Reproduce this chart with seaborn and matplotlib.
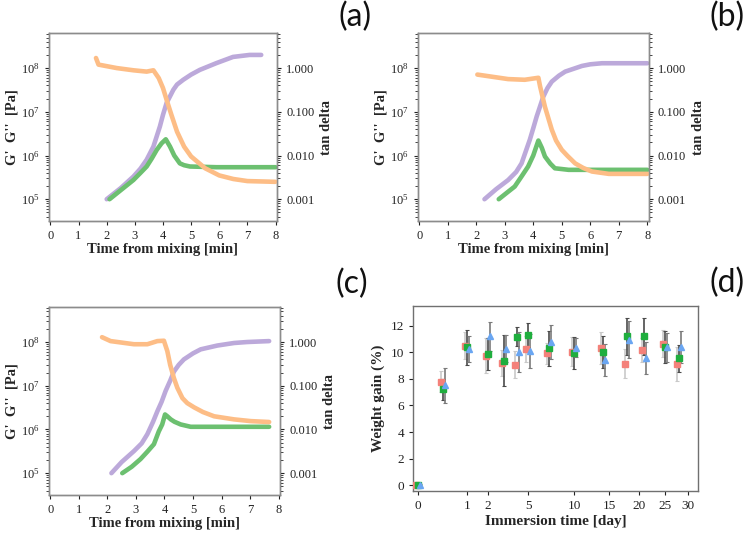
import matplotlib.pyplot as plt
import matplotlib.transforms as mtransforms
from matplotlib.ticker import FuncFormatter, LogLocator, NullFormatter
import numpy as np
import pandas as pd
import seaborn as sns

# ---- rheology data, panel (a) ----
a_gp_t = [2.0, 2.5, 2.95, 3.2, 3.42, 3.66, 3.89, 4.0, 4.13, 4.37, 4.5, 4.72, 5.0, 5.31, 5.9, 6.49, 7.08, 7.49]
a_gp = [1e5, 1.8e5, 3.3e5, 5e5, 8e5, 1.6e6, 4.6e6, 8.5e6, 1.6e7, 3.2e7, 4.2e7, 5.4e7, 7.1e7, 9.1e7,
        1.3e8, 1.8e8, 2.0e8, 2.0e8]
a_gpp_t = [2.1, 2.95, 3.2, 3.42, 3.6, 3.78, 3.95, 4.1, 4.25, 4.4, 4.6, 4.75, 4.96, 5.9, 8.0]
a_gpp = [1e5, 2.75e5, 4e5, 5.6e5, 8.5e5, 1.35e6, 1.9e6, 2.35e6, 1.6e6, 1.0e6, 6.6e5, 6.0e5, 5.6e5, 5.4e5, 5.4e5]
a_tan_t = [1.62, 1.71, 2.36, 2.95, 3.42, 3.66, 3.85, 4.0, 4.15, 4.3, 4.5, 4.75, 5.0, 5.5, 6.0, 6.5, 7.0, 7.99]
a_tan = [1.7, 1.2, 1.0, 0.89, 0.83, 0.89, 0.59, 0.35, 0.17, 0.085, 0.035, 0.016, 0.0095, 0.0051,
         0.0035, 0.0029, 0.0026, 0.0025]

# ---- panel (b) ----
b_gp_t = [2.29, 2.7, 3.12, 3.4, 3.59, 3.88, 4.0, 4.12, 4.35, 4.5, 4.65, 4.9, 5.12, 5.71, 6.0, 6.41, 8.0]
b_gp = [1e5, 1.7e5, 2.75e5, 4.2e5, 6.6e5, 2.3e6, 4.2e6, 7.8e6, 2.2e7, 3.5e7, 4.9e7, 6.7e7, 8.3e7,
        1.12e8, 1.22e8, 1.29e8, 1.29e8]
b_gpp_t = [2.79, 3.1, 3.35, 3.6, 3.82, 4.0, 4.18, 4.3, 4.41, 4.6, 4.76, 5.0, 5.24, 8.0]
b_gpp = [1e5, 1.45e5, 1.95e5, 3.4e5, 5.6e5, 1.0e6, 2.2e6, 1.5e6, 9.5e5, 6.5e5, 5.1e5, 4.9e5, 4.7e5, 4.7e5]
b_tan_t = [2.04, 3.12, 3.7, 4.18, 4.24, 4.41, 4.65, 4.8, 5.0, 5.2, 5.47, 5.75, 6.06, 6.65, 8.0]
b_tan = [0.71, 0.56, 0.54, 0.6, 0.38, 0.13, 0.039, 0.022, 0.0135, 0.0098, 0.0066, 0.0052, 0.0043,
         0.0038, 0.0038]

# ---- panel (c) ----
c_gp_t = [2.14, 2.5, 2.93, 3.2, 3.4, 3.6, 3.75, 3.9, 4.04, 4.2, 4.33, 4.5, 4.68, 5.0, 5.27, 5.85, 6.44,
          6.9, 7.67]
c_gp = [1e5, 1.8e5, 3.2e5, 4.8e5, 7.8e5, 1.5e6, 2.6e6, 4.3e6, 7.6e6, 1.3e7, 2.1e7, 3e7, 4e7, 5.5e7,
        6.8e7, 8.3e7, 9.5e7, 1.0e8, 1.05e8]
c_gpp_t = [2.52, 2.85, 3.16, 3.4, 3.63, 3.8, 3.92, 4.02, 4.1, 4.22, 4.35, 4.57, 4.92, 5.85, 7.67]
c_gpp = [1e5, 1.4e5, 2.1e5, 3.1e5, 4.6e5, 9e5, 1.3e6, 2.2e6, 2.0e6, 1.7e6, 1.5e6, 1.3e6, 1.15e6,
         1.15e6, 1.15e6]
c_tan_t = [1.81, 2.11, 2.93, 3.4, 3.75, 3.98, 4.1, 4.2, 4.33, 4.45, 4.63, 4.8, 5.04, 5.35, 5.74, 6.44,
           7.03, 7.67]
c_tan = [1.29, 1.05, 0.89, 0.89, 1.05, 1.07, 0.62, 0.3, 0.15, 0.09, 0.052, 0.04, 0.032, 0.025, 0.02,
         0.017, 0.0155, 0.0148]

# ---- weight gain, panel (d) ----
days = [0, 0.25, 1, 2, 3, 4, 5, 7, 10, 14, 18, 21, 25, 28]
red_gain = [0.0, 7.8, 10.5, 9.75, 9.2, 9.07, 10.25, 9.92, 10.05, 10.35, 9.15, 10.2, 10.65, 9.12]
red_err = [0.05, 0.8, 1.0, 1.3, 1.0, 1.0, 1.0, 0.8, 1.1, 1.2, 1.1, 0.9, 1.0, 1.3]
green_gain = [0.0, 7.22, 10.38, 9.85, 9.37, 11.18, 11.28, 10.3, 9.92, 10.05, 11.2, 11.2, 10.4, 9.55]
green_err = [0.05, 0.8, 1.3, 1.2, 1.9, 0.7, 0.9, 1.3, 1.2, 1.2, 1.4, 1.4, 1.2, 1.0]
blue_gain = [0.05, 7.52, 10.25, 11.2, 10.28, 10.0, 10.1, 10.78, 10.35, 9.4, 10.95, 9.6, 10.38, 10.38]
blue_err = [0.05, 1.3, 1.0, 1.1, 1.0, 1.5, 1.3, 1.3, 0.7, 1.2, 1.4, 1.2, 1.1, 1.2]
day_ticks = [0, 1, 2, 5, 10, 15, 20, 25, 30]

ORANGE = "#fdbd86"
PURPLE = "#bca9da"
GREEN = "#6cc070"

sns.set_theme(style="ticks")
plt.rcParams["font.family"] = ["Liberation Serif", "DejaVu Serif"]
plt.rcParams["mathtext.fontset"] = "stix"


def style_spines(ax, color="#8c8c8c"):
    for s in ax.spines.values():
        s.set_visible(True)
        s.set_color(color)
        s.set_linewidth(1.0)


def rheology_panel(ax, gp_t, gp, gpp_t, gpp, tan_t, tan):
    ax2 = ax.twinx()
    sns.lineplot(x=gp_t, y=gp, ax=ax, color=PURPLE, lw=3.3)
    sns.lineplot(x=gpp_t, y=gpp, ax=ax, color=GREEN, lw=3.3)
    sns.lineplot(x=tan_t, y=tan, ax=ax2, color=ORANGE, lw=3.3)

    ax.set_yscale("log")
    ax2.set_yscale("log")
    ax.set_ylim(10**4.5, 10**8.8)
    ax2.set_ylim(10**-3.5, 10**0.8)
    ax.set_xlim(-0.05, 8.05)
    ax.set_xticks(range(0, 9))
    ax.set_yticks([1e5, 1e6, 1e7, 1e8])
    ax2.set_yticks([1e-3, 1e-2, 1e-1, 1])
    ax2.yaxis.set_major_formatter(FuncFormatter(lambda v, p: f"{v:.3f}"))
    for a in (ax, ax2):
        a.yaxis.set_minor_locator(LogLocator(base=10, subs=np.arange(2, 10)))
        a.yaxis.set_minor_formatter(NullFormatter())
        a.tick_params(axis="both", labelsize=9, colors="#222222", length=3,
                      width=0.8, direction="out")
        a.tick_params(axis="both", which="minor", length=2, width=0.6)
        style_spines(a)
    ax.set_xlabel("Time from mixing [min]", fontsize=10.5, fontweight="bold", labelpad=1)
    ax.set_ylabel("G'  G''  [Pa]", fontsize=10.5, fontweight="bold", labelpad=2)
    ax2.set_ylabel("tan delta", fontsize=10.5, fontweight="bold", labelpad=4)


fig = plt.figure(figsize=(7.5, 5.34), dpi=100)

ax_a = fig.add_axes([0.0653, 0.586, 0.304, 0.352])
ax_b = fig.add_axes([0.557, 0.586, 0.308, 0.352])
ax_c = fig.add_axes([0.0653, 0.073, 0.308, 0.352])
ax_d = fig.add_axes([0.551, 0.0805, 0.380, 0.3465])

rheology_panel(ax_a, a_gp_t, a_gp, a_gpp_t, a_gpp, a_tan_t, a_tan)
rheology_panel(ax_b, b_gp_t, b_gp, b_gpp_t, b_gpp, b_tan_t, b_tan)
rheology_panel(ax_c, c_gp_t, c_gp, c_gpp_t, c_gpp, c_tan_t, c_tan)

# panel (d): square-root time axis
def fwd(x):
    x = np.asarray(x, dtype=float)
    return np.sign(x) * np.sqrt(np.abs(x))


def inv(x):
    x = np.asarray(x, dtype=float)
    return np.sign(x) * x**2


ax_d.set_xscale("function", functions=(fwd, inv))
series = [
    (red_gain, red_err, "#f4817a", "s", "#c9c9c9", -0.02),
    (green_gain, green_err, "#1fae3e", "s", "#4a4a4a", 0.0),
    (blue_gain, blue_err, "#6aa6f2", "^", "#7a7a7a", 0.02),
]
for gain, err, col, mk, ecol, dx in series:
    shift = ax_d.transData + mtransforms.ScaledTranslation(dx, 0, fig.dpi_scale_trans)
    ax_d.errorbar(days, gain, yerr=err, fmt="none", ecolor=ecol, elinewidth=1.2,
                  capsize=1.2, capthick=0.8, transform=shift, zorder=2)
    ax_d.plot(days, gain, linestyle="none", marker=mk, color=col, markersize=4.2,
              transform=shift, zorder=3)

ax_d.set_xlim(-0.01, 32.3)
ax_d.set_ylim(-0.43, 13.48)
ax_d.set_xticks(day_ticks)
ax_d.set_xticklabels([str(t) for t in day_ticks])
ax_d.set_yticks(range(0, 13, 2))
ax_d.tick_params(axis="both", labelsize=9.5, colors="#222222", length=3, width=0.8)
style_spines(ax_d, "#707070")
ax_d.set_xlabel("Immersion time [day]", fontsize=11, fontweight="bold", labelpad=2)
ax_d.set_ylabel("Weight gain (%)", fontsize=11, fontweight="bold", labelpad=4)

# panel letters
for txt, x, y in [("(a)", 0.473, 0.968), ("(b)", 0.969, 0.968),
                  ("(c)", 0.469, 0.468), ("(d)", 0.969, 0.471)]:
    fig.text(x, y, txt, fontsize=23, ha="center", va="center",
             family=["Lato", "DejaVu Sans"], color="#111111")

fig.savefig("out.png", dpi=100)
